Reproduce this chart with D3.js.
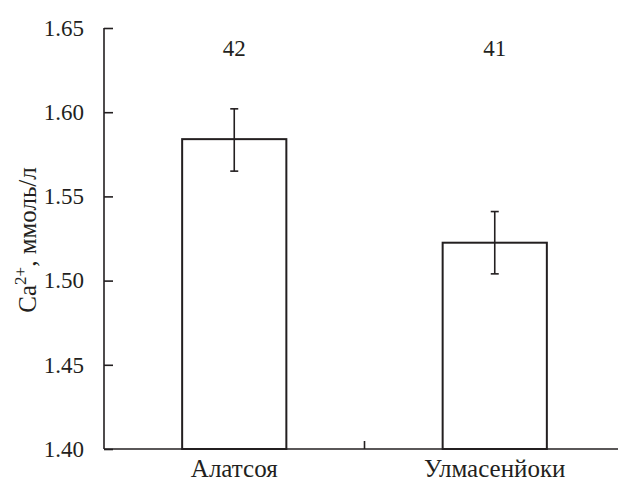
<!DOCTYPE html>
<html><head><meta charset="utf-8">
<script src="https://cdn.jsdelivr.net/npm/d3@7"></script>
<style>
body{margin:0;background:#fff}
</style>
</head><body>
<script>
const categories = ["Алатсоя", "Улмасенйоки"];
const means = [1.584, 1.5225];
const errLow = [1.565, 1.504];
const errHigh = [1.602, 1.541];
const counts = ["42", "41"];
const yTicks = [1.40, 1.45, 1.50, 1.55, 1.60, 1.65];

const W = 618, H = 482;
const FF = '"Times New Roman", Tinos, "Liberation Serif", serif';
const svg = d3.select("body").append("svg").attr("width", W).attr("height", H)
  .style("display", "block").style("font-family", FF);
const col = "#231f20";

const y = d3.scaleLinear().domain([1.40, 1.65]).range([449, 28]);
const x = d3.scaleBand().domain(categories).range([104, 625]).paddingInner(0.6).paddingOuter(0.3);

// y axis
const yAxis = d3.axisLeft(y).tickValues(yTicks).tickFormat(d3.format(".2f")).tickSize(-9).tickPadding(20);
const gy = svg.append("g").attr("transform", "translate(104,0)").call(yAxis);
gy.attr("font-family", null).style("font-family", FF);
gy.select(".domain").remove();
gy.append("line").attr("x1", 0).attr("x2", 0).attr("y1", y(1.65)).attr("y2", y(1.40))
  .attr("stroke", col).attr("stroke-width", 1.6);
gy.selectAll(".tick line").attr("stroke", col).attr("stroke-width", 1.6);
gy.selectAll(".tick text").style("font-family", FF).attr("font-size", 23).attr("fill", col);

// x axis
svg.append("line").attr("x1", 104).attr("x2", W).attr("y1", y(1.40)).attr("y2", y(1.40))
  .attr("stroke", col).attr("stroke-width", 1.6);
const midX = x(categories[1]) - x.step() * x.paddingInner() / 2;
svg.append("line").attr("x1", midX).attr("x2", midX)
  .attr("y1", y(1.40)).attr("y2", y(1.40) - 8).attr("stroke", col).attr("stroke-width", 1.6);

// bars
svg.selectAll("rect.bar").data(categories).join("rect").attr("class", "bar")
  .attr("x", d => x(d)).attr("width", x.bandwidth())
  .attr("y", (d, i) => y(means[i])).attr("height", (d, i) => y(1.40) - y(means[i]))
  .attr("fill", "none").attr("stroke", col).attr("stroke-width", 2);

// error bars
const cx = d => x(d) + x.bandwidth() / 2;
const eg = svg.selectAll("g.err").data(categories).join("g").attr("class", "err");
eg.append("line").attr("x1", cx).attr("x2", cx).attr("y1", (d, i) => y(errLow[i])).attr("y2", (d, i) => y(errHigh[i]))
  .attr("stroke", col).attr("stroke-width", 1.6);
eg.append("line").attr("x1", d => cx(d) - 4).attr("x2", d => cx(d) + 4).attr("y1", (d, i) => y(errLow[i])).attr("y2", (d, i) => y(errLow[i]))
  .attr("stroke", col).attr("stroke-width", 1.6);
eg.append("line").attr("x1", d => cx(d) - 4).attr("x2", d => cx(d) + 4).attr("y1", (d, i) => y(errHigh[i])).attr("y2", (d, i) => y(errHigh[i]))
  .attr("stroke", col).attr("stroke-width", 1.6);

// counts
svg.selectAll("text.cnt").data(categories).join("text").attr("class", "cnt")
  .attr("x", cx).attr("y", 56).attr("text-anchor", "middle")
  .style("font-family", FF).attr("font-size", 23).attr("fill", col)
  .text((d, i) => counts[i]);

// category labels
svg.selectAll("text.cat").data(categories).join("text").attr("class", "cat")
  .attr("x", cx).attr("y", 477).attr("text-anchor", "middle")
  .style("font-family", FF).attr("font-size", 25).attr("fill", col)
  .text(d => d);

// y title
const t = svg.append("text").attr("transform", "translate(36,240) rotate(-90)")
  .attr("text-anchor", "middle").style("font-family", FF).attr("font-size", 25).attr("fill", col);
t.append("tspan").text("Ca");
t.append("tspan").attr("font-size", 17).attr("dy", -10).text("2+");
t.append("tspan").attr("dy", 10).text(", ммоль/л");
</script>
</body></html>
